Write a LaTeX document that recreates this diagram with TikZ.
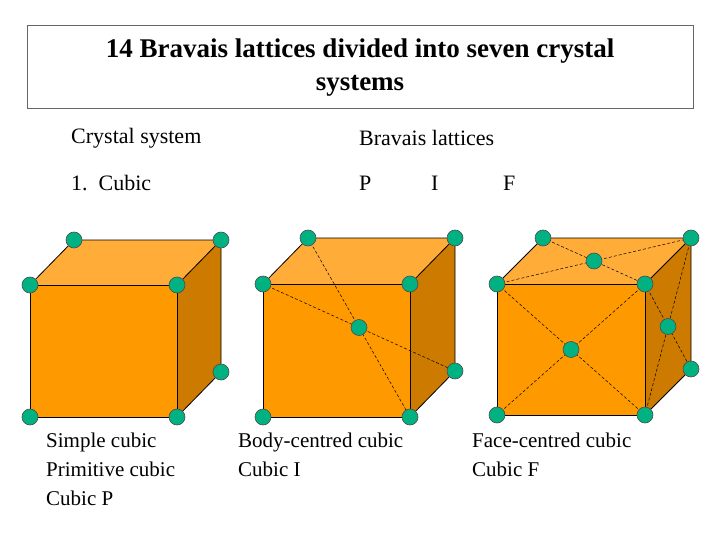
\documentclass[tikz,border=0pt]{standalone}
\usepackage{fontspec}
\usetikzlibrary{calc}
\setmainfont{Liberation Serif}
\definecolor{fface}{RGB}{255,153,0}
\definecolor{tface}{RGB}{255,172,56}
\definecolor{sface}{RGB}{204,122,0}
\definecolor{atom}{RGB}{0,178,130}
\begin{document}
\begin{tikzpicture}[x=1pt,y=-1pt,
  atomn/.style={circle,fill=atom,draw=black!70,line width=0.6pt,minimum size=16,inner sep=0},
  edge/.style={draw=black,line width=0.8pt},
  diag/.style={dashed,line width=0.5pt,dash pattern=on 3pt off 2pt},
  lbl/.style={anchor=west,inner sep=0,font=\fontsize{22}{28}\selectfont},
  lbl2/.style={anchor=north west,inner sep=0,align=left,font=\fontsize{21}{29}\selectfont}]
\useasboundingbox (0,0) rectangle (720,540);
\node[draw=black!60,line width=0.6pt,minimum width=666,minimum height=83,anchor=north west,inner sep=0] (tb) at (27,25) {};
\node[align=center,font=\bfseries\fontsize{27}{33}\selectfont] (title) at (360,68) {14 Bravais lattices divided into seven crystal\\systems};
\node[lbl] (cs) at (71,138) {Crystal system};
\node[lbl] (bl) at (359,138) {Bravais lattices};
\node[lbl] (cu) at (71,183) {1.\ \ Cubic};
\node[lbl] (p) at (359,183) {P};
\node[lbl] (i) at (431,183) {I};
\node[lbl] (f) at (503,183) {F};
\node[lbl2] (l1) at (46,433) {Simple cubic\\Primitive cubic\\Cubic P};
\node[lbl2] (l2) at (238,433) {Body-centred cubic\\Cubic I};
\node[lbl2] (l3) at (472,433) {Face-centred cubic\\Cubic F};
\newcommand\mycube[7]{%
  \coordinate (#7a) at (#1,#2); \coordinate (#7b) at (#1+#3,#2);
  \coordinate (#7c) at (#1+#3,#2+#4); \coordinate (#7d) at (#1,#2+#4);
  \coordinate (#7e) at (#1+#5,#2+#6); \coordinate (#7f) at (#1+#3+#5,#2+#6);
  \coordinate (#7g) at (#1+#3+#5,#2+#4+#6);
  \fill[fface] (#7a) rectangle (#7c);
  \fill[tface] (#7a)--(#7e)--(#7f)--(#7b)--cycle;
  \fill[sface] (#7b)--(#7f)--(#7g)--(#7c)--cycle;
  \draw[edge] (#7a) rectangle (#7c);
  \draw[edge] (#7a)--(#7e)--(#7f)--(#7b) (#7f)--(#7g)--(#7c);
}
\mycube{30}{285}{147}{132}{44}{-45}{A}
\mycube{263}{284}{147}{133}{45}{-46}{B}
\mycube{497}{284}{148}{131}{46}{-46}{C}
\draw[diag] (Be)--(Bc) (Ba)--(Bg);
\draw[diag] (Ca)--(Cf) (Ce)--(Cb) (Ca)--(Cc) (Cb)--(Cd) (Cb)--(Cg) (Cf)--(Cc);
\foreach \c in {A,B,C}{
  \foreach \k in {a,b,c,d,e,f,g}{ \node[atomn] (\c\k n) at (\c\k) {}; }
}
\node[atomn] (bc) at ($(Be)!0.5!(Bc)$) {};
\node[atomn] (ft) at ($(Ca)!0.5!(Cf)$) {};
\node[atomn] (ff) at ($(Ca)!0.5!(Cc)$) {};
\node[atomn] (fs) at ($(Cb)!0.5!(Cg)$) {};
\end{tikzpicture}
\end{document}
